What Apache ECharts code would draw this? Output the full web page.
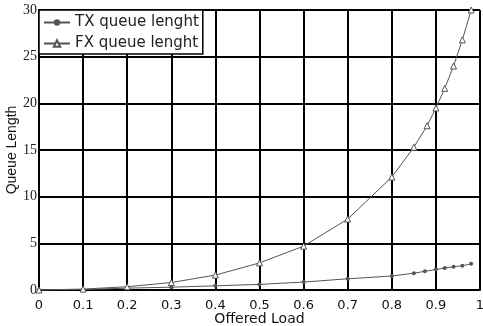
<!DOCTYPE html>
<html lang="en">
  <head>
    <meta charset="UTF-8" />
    <title>Queue Length</title>
    <script src="https://cdn.jsdelivr.net/npm/echarts@6/dist/echarts.min.js"></script>
  </head>
  <body style="margin:0;background:#fff">
    <div id="main" style="width: 483px;height:326px;"></div>
    <script type="text/javascript">
      // offered load values and queue lengths
      var txLoad = [0, 0.1, 0.2, 0.3, 0.4, 0.5, 0.6, 0.7, 0.8, 0.85, 0.875, 0.9, 0.92, 0.94, 0.96, 0.98];
      var txQueue = [0, 0.05, 0.2, 0.3, 0.45, 0.6, 0.85, 1.2, 1.5, 1.8, 2.0, 2.2, 2.35, 2.5, 2.6, 2.8];
      var fxLoad = [0, 0.1, 0.2, 0.3, 0.4, 0.5, 0.6, 0.7, 0.8, 0.85, 0.88, 0.9, 0.92, 0.94, 0.96, 0.98];
      var fxQueue = [0, 0.1, 0.35, 0.8, 1.6, 2.9, 4.7, 7.6, 12.1, 15.3, 17.6, 19.5, 21.6, 24.0, 26.8, 30.0];

      function pairs(xs, ys) {
        return xs.map(function (x, i) { return [x, ys[i]]; });
      }

      var myChart = echarts.init(document.getElementById("main"));
      var option = {
        animation: false,
        grid: { left: 39, right: 3, top: 10, bottom: 36, outerBoundsMode: "none" },
        legend: {
          orient: "vertical",
          left: 39,
          top: 10,
          padding: [5, 4, 3, 4],
          itemGap: 6,
          itemWidth: 26,
          itemHeight: 8,
          backgroundColor: "#fff",
          borderColor: "#000",
          borderWidth: 1.5,
          textStyle: { fontFamily: "DejaVu Sans", fontSize: 15, color: "#222" },
          data: ["TX queue lenght", "FX queue lenght"],
        },
        xAxis: {
          type: "value",
          min: 0,
          max: 1,
          interval: 0.1,
          name: "Offered Load",
          nameLocation: "middle",
          nameGap: 22,
          nameMoveOverlap: false,
          nameTextStyle: { fontFamily: "DejaVu Sans", fontSize: 14, color: "#111" },
          axisLine: { lineStyle: { color: "#000", width: 2 } },
          axisTick: { show: false },
          axisLabel: { fontFamily: "DejaVu Sans", fontSize: 13, color: "#111", margin: 9 },
          splitLine: { show: true, lineStyle: { color: "#000", width: 2 } },
        },
        yAxis: {
          type: "value",
          min: 0,
          max: 30,
          interval: 5,
          name: "Queue Length",
          nameLocation: "middle",
          nameGap: 20,
          nameMoveOverlap: false,
          nameTextStyle: { fontFamily: "Liberation Sans", fontSize: 14, color: "#111" },
          axisLine: { show: true, lineStyle: { color: "#000", width: 2 } },
          axisTick: { show: false },
          axisLabel: { fontFamily: "Liberation Serif", fontSize: 14, color: "#222", margin: 2 },
          splitLine: { show: true, lineStyle: { color: "#000", width: 2 } },
        },
        series: [
          {
            name: "TX queue lenght",
            type: "line",
            data: pairs(txLoad, txQueue),
            symbol: "circle",
            symbolSize: 4,
            lineStyle: { color: "#555", width: 1 },
            itemStyle: { color: "#555" },
          },
          {
            name: "FX queue lenght",
            type: "line",
            data: pairs(fxLoad, fxQueue),
            symbol: "triangle",
            symbolSize: 6,
            lineStyle: { color: "#555", width: 1 },
            itemStyle: { color: "#fff", borderColor: "#555", borderWidth: 1 },
          },
        ],
      };
      myChart.setOption(option);
    </script>
  </body>
</html>
